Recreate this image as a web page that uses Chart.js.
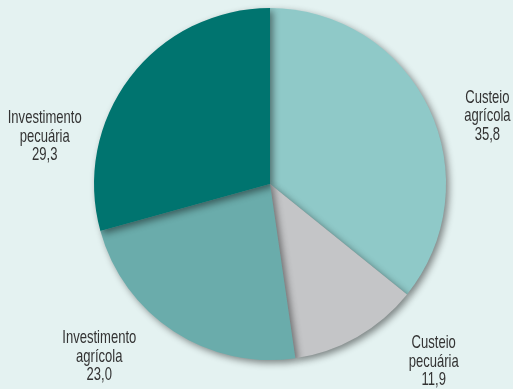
<!DOCTYPE html>
<html>
<head>
<meta charset="utf-8">
<script src="https://cdn.jsdelivr.net/npm/chart.js@4/dist/chart.umd.min.js"></script>
<style>
  html, body { margin: 0; padding: 0; background: #e4f2f1; }
  #wrap { width: 513px; height: 389px; position: relative; }
</style>
</head>
<body>
<div id="wrap"><canvas id="c" width="513" height="389"></canvas></div>
<script>
const categories = ["Custeio agrícola", "Custeio pecuária", "Investimento agrícola", "Investimento pecuária"];
const labelLines = [["Custeio", "agrícola"], ["Custeio", "pecuária"], ["Investimento", "agrícola"], ["Investimento", "pecuária"]];
const values = [35.8, 11.9, 23.0, 29.3];
const colors = ["#8fc9c8", "#c4c5c7", "#6aacab", "#00746f"];

// label anchor offsets, in units of pie radius, relative to pie centre
const labelOffsets = [[1.235, -0.385], [0.93, 1.01], [-0.97, 0.98], [-1.28, -0.27]];

const shadowPlugin = {
  id: 'shadow',
  beforeDatasetsDraw(chart) {
    const ctx = chart.ctx;
    ctx.save();
    ctx.shadowColor = 'rgba(0,0,0,0.45)';
    ctx.shadowBlur = 7;
    ctx.shadowOffsetX = 3;
    ctx.shadowOffsetY = 3;
  },
  afterDatasetsDraw(chart) {
    chart.ctx.restore();
  }
};

const labelPlugin = {
  id: 'outLabels',
  afterDatasetsDraw(chart) {
    const ctx = chart.ctx;
    const meta = chart.getDatasetMeta(0);
    ctx.save();
    ctx.font = '19px "Liberation Sans", Arial, sans-serif';
    const sx = 74 / ctx.measureText('Investimento').width; // condensed look
    ctx.fillStyle = '#333333';
    ctx.textAlign = 'center';
    ctx.textBaseline = 'middle';
    meta.data.forEach((arc, i) => {
      const r = arc.outerRadius;
      const cx = arc.x + labelOffsets[i][0] * r;
      const cy = arc.y + labelOffsets[i][1] * r;
      const lines = labelLines[i].concat([values[i].toFixed(1).replace('.', ',')]);
      const lh = 18.5;
      lines.forEach((t, k) => {
        ctx.save();
        ctx.translate(cx, cy + (k - 1) * lh);
        ctx.scale(sx, 1);
        ctx.fillText(t, 0, 0);
        ctx.restore();
      });
    });
    ctx.restore();
  }
};

new Chart(document.getElementById('c'), {
  type: 'pie',
  data: {
    labels: categories,
    datasets: [{
      data: values,
      backgroundColor: colors,
      borderWidth: 0
    }]
  },
  options: {
    responsive: false,
    animation: false,
    layout: { padding: { left: 94, right: 67, top: 8, bottom: 29 } },
    plugins: {
      legend: { display: false },
      tooltip: { enabled: false }
    }
  },
  plugins: [shadowPlugin, labelPlugin]
});
</script>
</body>
</html>
